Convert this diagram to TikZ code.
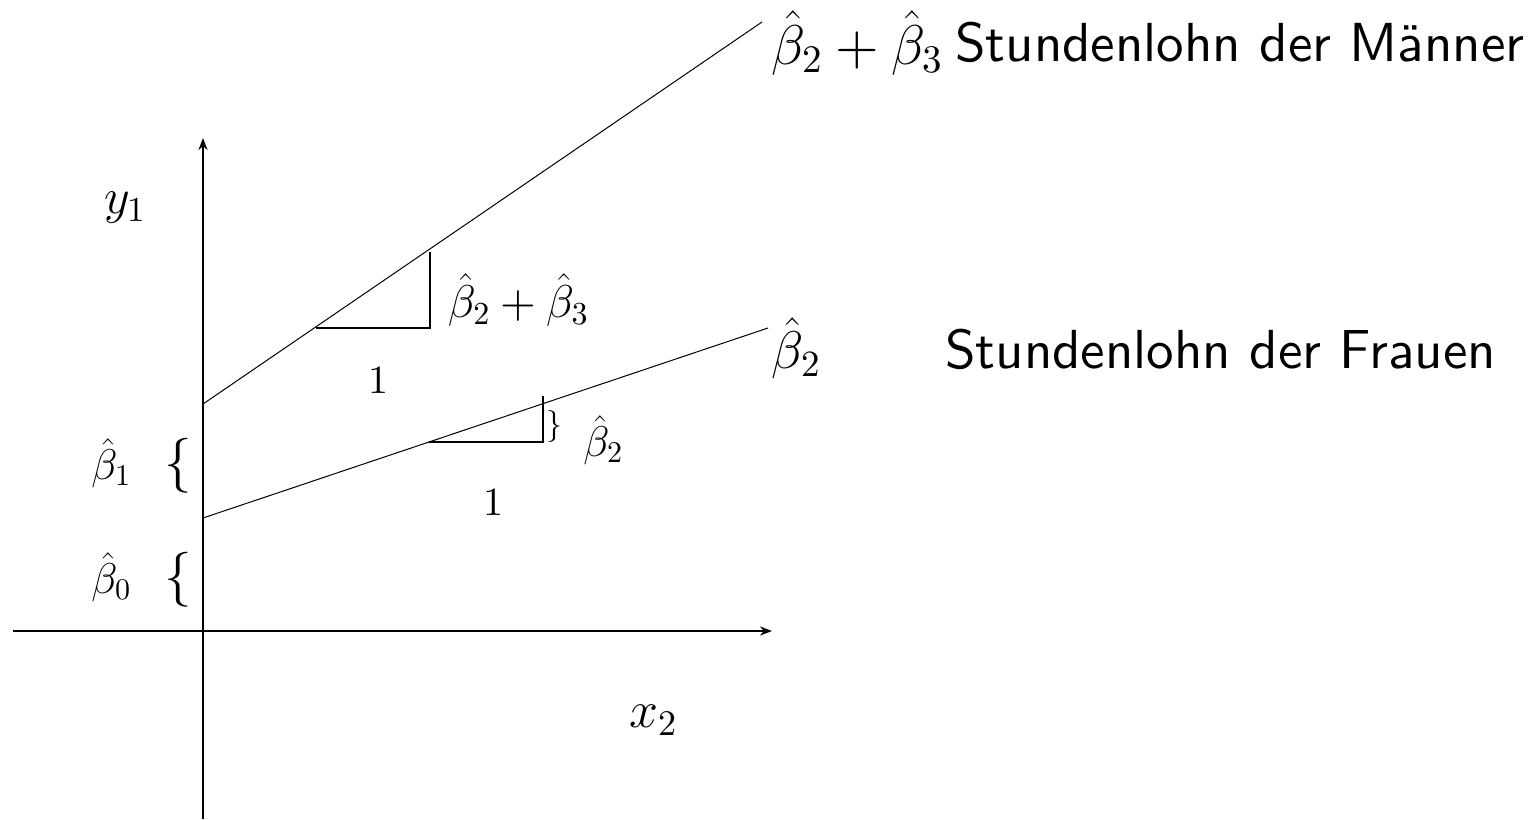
\documentclass[tikz,border=0pt]{standalone}
\IfFileExists{fix-cm.sty}{\usepackage{fix-cm}}{}
\usetikzlibrary{arrows.meta}
\newcommand{\myfs}[1]{\fontsize{#1}{#1}\selectfont}
\newcommand{\rmd}[2]{\hbox{\font\tmpf="[lmroman10-regular.otf]" at #1pt\tmpf #2}}
\font\sansbig="[lmsans10-regular.otf]" at 55pt
\begin{document}
\begin{tikzpicture}[x=1pt,y=-1pt,
  axisline/.style={line width=2.9pt,-{Stealth[length=12pt,width=9pt]}},
  trendline/.style={line width=1pt},
  tri/.style={line width=2.9pt},
  lbl/.style={inner sep=0pt}]
\useasboundingbox (0,0) rectangle (1538,819);
% axes
\coordinate (yb) at (203,819);
\coordinate (yt) at (203,138);
\coordinate (xl) at (13,631);
\coordinate (xr) at (772,631);
\draw[axisline] (yb) -- (yt);
\draw[axisline] (xl) -- (xr);
% lines
\coordinate (ms) at (203,404);
\coordinate (me) at (762,22);
\coordinate (fs) at (203,518);
\coordinate (fe) at (768,328);
\draw[trendline] (ms) -- (me);
\draw[trendline] (fs) -- (fe);
% triangles
\coordinate (ta) at (316,328);
\coordinate (tb) at (430,328);
\coordinate (tc) at (430,252);
\draw[tri] (ta) -- (tb) -- (tc);
\coordinate (ua) at (429,442);
\coordinate (ub) at (543,442);
\coordinate (uc) at (543,396);
\draw[tri] (ua) -- (ub) -- (uc);
% labels
\node[lbl] (topmath) at (857,43) {\myfs{56}$\hat\beta_{\rmd{39}{2}}\mathbin{\rmd{56}{+}}\hat\beta_{\rmd{39}{3}}$};
\node[lbl,anchor=base west] (maenner) at (955,61) {\sansbig Stundenlohn der Männer};
\node[lbl,anchor=base west] (frauen) at (945,368) {\sansbig Stundenlohn der Frauen};
\node[lbl] (y1) at (125,208) {\myfs{50}$y_{\rmd{35}{1}}$};
\node[lbl] (x2) at (653,720) {\myfs{52}$x_{\rmd{36}{2}}$};
\node[lbl] (midmath) at (518,300) {\myfs{46}$\hat\beta_{\rmd{32}{2}}\mathbin{\rmd{46}{+}}\hat\beta_{\rmd{32}{3}}$};
\node[lbl] (one1) at (378,380) {\rmd{40}{1}};
\node[lbl] (one2) at (493,502) {\rmd{40}{1}};
\node[lbl] (rb2) at (796,348) {\myfs{53}$\hat\beta_{\rmd{37}{2}}$};
\node[lbl] (brace) at (554,426) {\myfs{32}$\}$};
\node[lbl] (bb2) at (603,440) {\myfs{43}$\hat\beta_{\rmd{30}{2}}$};
\node[lbl] (b1) at (111,463) {\myfs{43}$\hat\beta_{\rmd{30}{1}}$};
\node[lbl] (br1) at (178,466) {\myfs{55}$\{$};
\node[lbl] (b0) at (111,577) {\myfs{43}$\hat\beta_{\rmd{30}{0}}$};
\node[lbl] (br0) at (178,580) {\myfs{55}$\{$};
\end{tikzpicture}
\end{document}
